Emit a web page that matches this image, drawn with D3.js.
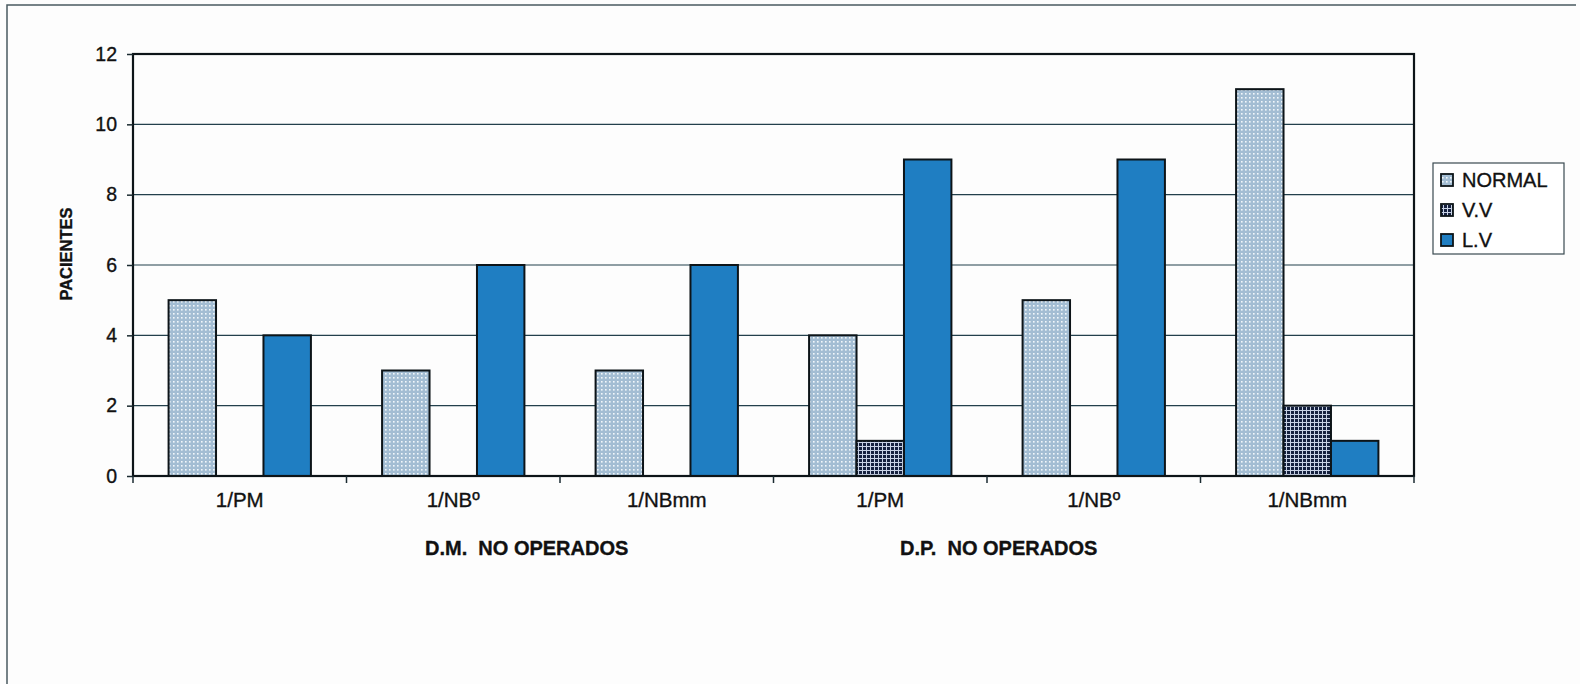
<!DOCTYPE html>
<html>
<head>
<meta charset="utf-8">
<script src="https://cdn.jsdelivr.net/npm/d3@7"></script>
<style>
  html, body { margin: 0; padding: 0; background: #fdfdfd; }
  svg { display: block; }
  text { font-family: "Liberation Sans", Arial, sans-serif; fill: #111; stroke: #111; stroke-width: 0.35px; }
</style>
</head>
<body>
<svg id="chart" width="1580" height="684"></svg>
<script>
// Patient counts per measurement and patient group
const categories = ["1/PM", "1/NBº", "1/NBmm", "1/PM ", "1/NBº ", "1/NBmm "];
const categoryLabels = ["1/PM", "1/NBº", "1/NBmm", "1/PM", "1/NBº", "1/NBmm"];
const seriesNames = ["NORMAL", "V.V", "L.V"];
const normalValues = [5, 3, 3, 4, 5, 11];
const vvValues = [0, 0, 0, 1, 0, 2];
const lvValues = [4, 6, 6, 9, 9, 1];
const yTicks = [0, 2, 4, 6, 8, 10, 12];
const groupTitles = ["D.M.  NO OPERADOS", "D.P.  NO OPERADOS"];
const yTitle = "PACIENTES";

const seriesValues = [normalValues, vvValues, lvValues];

const svg = d3.select("#chart");
const plot = { left: 133, right: 1414, top: 54, bottom: 476 };

// Pattern fills for the three series
const defs = svg.append("defs");
const pDots = defs.append("pattern").attr("id", "fillNormal")
  .attr("patternUnits", "userSpaceOnUse").attr("width", 4).attr("height", 4);
pDots.append("rect").attr("width", 4).attr("height", 4).attr("fill", "#a3bdd3");
pDots.append("rect").attr("x", 1).attr("y", 1).attr("width", 1.6).attr("height", 1.6).attr("fill", "#f2f7fb");

const pGrid = defs.append("pattern").attr("id", "fillVV")
  .attr("patternUnits", "userSpaceOnUse").attr("width", 4).attr("height", 4);
pGrid.append("rect").attr("width", 4).attr("height", 4).attr("fill", "#15213f");
pGrid.append("rect").attr("x", 0).attr("y", 2).attr("width", 4).attr("height", 1).attr("fill", "#c9d3e6");
pGrid.append("rect").attr("x", 2).attr("y", 0).attr("width", 1).attr("height", 4).attr("fill", "#c9d3e6");

const fills = { "NORMAL": "url(#fillNormal)", "V.V": "url(#fillVV)", "L.V": "#1f7ec2" };

// Outer frame (left and top edges)
svg.append("path")
  .attr("d", "M7,684 L7,5 L1576,5")
  .attr("fill", "none").attr("stroke", "#4a5a60").attr("stroke-width", 1.5);

// Scales
const x0 = d3.scaleBand().domain(categories).range([plot.left, plot.right]).paddingInner(0).paddingOuter(0);
const x1 = d3.scaleBand().domain(seriesNames).range([0, x0.bandwidth()]).paddingInner(0).paddingOuter(0.75);
const y = d3.scaleLinear().domain([0, 12]).range([plot.bottom, plot.top]);

// Gridlines
svg.append("g").selectAll("line").data(yTicks.filter(t => t > 0 && t < 12)).join("line")
  .attr("x1", plot.left).attr("x2", plot.right)
  .attr("y1", d => y(d)).attr("y2", d => y(d))
  .attr("stroke", "#23404c").attr("stroke-width", 1.2);

// Bars (zero values are not drawn)
const barData = [];
categories.forEach((c, i) => {
  seriesNames.forEach((s, j) => {
    const v = seriesValues[j][i];
    if (v > 0) barData.push({ c, s, v });
  });
});
svg.append("g").selectAll("rect").data(barData).join("rect")
  .attr("x", d => x0(d.c) + x1(d.s))
  .attr("y", d => y(d.v))
  .attr("width", x1.bandwidth())
  .attr("height", d => y(0) - y(d.v))
  .attr("fill", d => fills[d.s])
  .attr("stroke", "#0d1418").attr("stroke-width", 2);

// Plot frame
svg.append("rect")
  .attr("x", plot.left).attr("y", plot.top)
  .attr("width", plot.right - plot.left).attr("height", plot.bottom - plot.top)
  .attr("fill", "none").attr("stroke", "#0d1418").attr("stroke-width", 2.2);

// Y axis
const yAxis = d3.axisLeft(y).tickValues(yTicks).tickSize(6).tickPadding(10).tickFormat(d3.format("d"));
const gy = svg.append("g").attr("transform", `translate(${plot.left},0)`).call(yAxis);
gy.attr("font-size", null).attr("font-family", null);
gy.select(".domain").remove();
gy.selectAll(".tick line").attr("stroke", "#1a2a30").attr("stroke-width", 1.5);
gy.selectAll(".tick text").style("font-size", "19.5px").attr("fill", "#111");

// X axis: ticks on category boundaries, labels centred under each category
const boundaries = categories.map(c => x0(c)).concat([plot.right]);
svg.append("g").selectAll("line").data(boundaries).join("line")
  .attr("x1", d => d).attr("x2", d => d)
  .attr("y1", plot.bottom).attr("y2", plot.bottom + 7)
  .attr("stroke", "#1a2a30").attr("stroke-width", 1.5);
svg.append("g").selectAll("text").data(categories).join("text")
  .attr("x", (d) => x0(d) + x0.bandwidth() / 2)
  .attr("y", plot.bottom + 31)
  .attr("text-anchor", "middle")
  .style("font-size", "20.5px")
  .text((d, i) => categoryLabels[i]);

// Group titles under the categories
const groupTitleX = [425, 900];
svg.append("g").selectAll("text").data(groupTitles).join("text")
  .attr("x", (d, i) => groupTitleX[i])
  .attr("y", 555)
  .style("font-size", "20px").style("font-weight", "bold")
  .style("white-space", "pre")
  .attr("xml:space", "preserve")
  .text(d => d);

// Y axis title
svg.append("text")
  .attr("transform", "translate(72,254) rotate(-90)")
  .attr("text-anchor", "middle")
  .style("font-size", "16.5px").style("font-weight", "bold")
  .text(yTitle);

// Legend
const legend = svg.append("g");
legend.append("rect")
  .attr("x", 1433).attr("y", 163).attr("width", 131).attr("height", 91)
  .attr("fill", "#fff").attr("stroke", "#3a4a50").attr("stroke-width", 1.2);
const items = legend.selectAll("g").data(seriesNames).join("g")
  .attr("transform", (d, i) => `translate(1441,${180 + i * 30})`);
items.append("rect")
  .attr("x", 0).attr("y", -6).attr("width", 12).attr("height", 12)
  .attr("fill", d => fills[d]).attr("stroke", "#0d1418").attr("stroke-width", 1.8);
items.append("text")
  .attr("x", 21).attr("y", 7)
  .style("font-size", "20px")
  .text(d => d);
</script>
</body>
</html>
